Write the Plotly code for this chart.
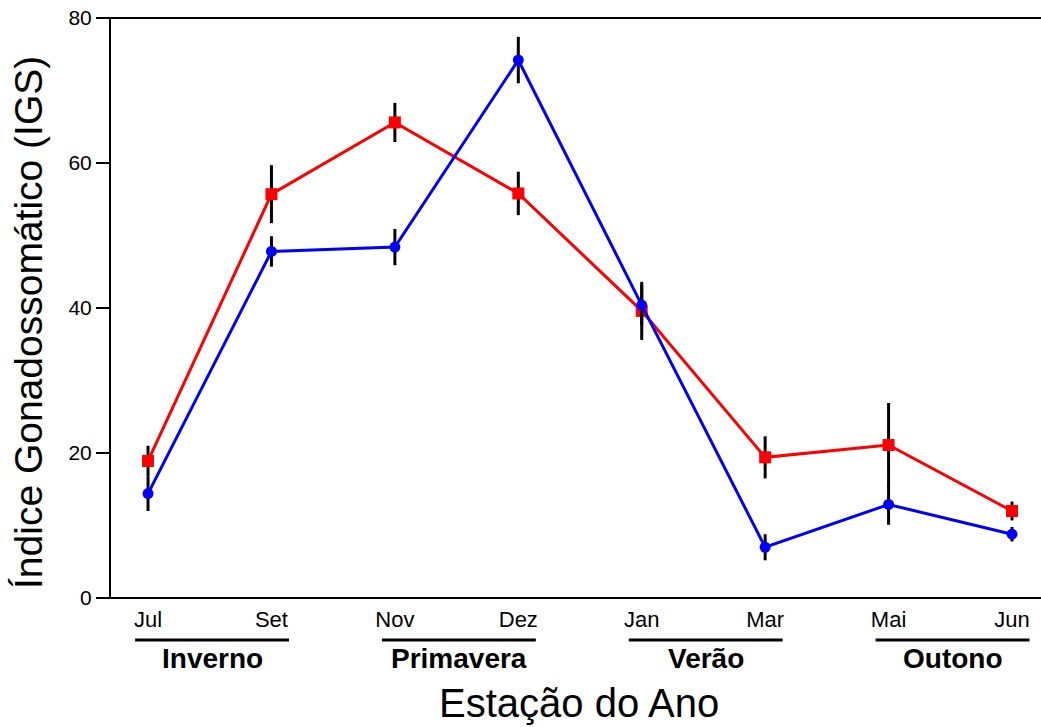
import plotly.graph_objects as go

# Monthly sampling points, grouped by season
months = ["Jul", "Set", "Nov", "Dez", "Jan", "Mar", "Mai", "Jun"]
seasons = ["Inverno", "Primavera", "Verão", "Outono"]

# Gonadosomatic index (mean and error) for the two series
igs_red = [18.9, 55.7, 65.6, 55.8, 39.6, 19.4, 21.1, 12.0]
err_red = [2.1, 4.0, 2.7, 3.0, 4.0, 2.9, 5.8, 1.3]
igs_blue = [14.4, 47.8, 48.4, 74.2, 40.4, 7.0, 12.9, 8.8]
err_blue = [2.4, 2.1, 2.5, 3.2, 2.8, 1.8, 2.8, 1.0]

x_idx = list(range(len(months)))
FONT = "Liberation Sans, Arial, sans-serif"

fig = go.Figure()
fig.add_trace(go.Scatter(
    x=x_idx, y=igs_red, mode="lines+markers",
    line=dict(color="#FF0000", width=3),
    marker=dict(symbol="square", size=12, color="#FF0000"),
    error_y=dict(type="data", array=err_red, color="black", thickness=3, width=0),
    showlegend=False,
))
fig.add_trace(go.Scatter(
    x=x_idx, y=igs_blue, mode="lines+markers",
    line=dict(color="#0000FF", width=3),
    marker=dict(symbol="circle", size=11, color="#0000FF"),
    error_y=dict(type="data", array=err_blue, color="black", thickness=3, width=0),
    showlegend=False,
))

# Frame lines along top and bottom, running out to the tick ends
tick_ext = -13 / 930
for yv in (0, 1):
    fig.add_shape(type="line", xref="paper", yref="paper",
                  x0=tick_ext, x1=1, y0=yv, y1=yv,
                  line=dict(color="black", width=2))

# Season brackets under month pairs
for i, s in enumerate(seasons):
    a, b = 2 * i, 2 * i + 1
    fig.add_shape(type="line", xref="x", yref="paper",
                  x0=a - 0.105, x1=b + 0.142, y0=-0.0724, y1=-0.0724,
                  line=dict(color="black", width=3))
    fig.add_annotation(x=(a + b) / 2 + 0.02, y=-0.105, xref="x", yref="paper",
                       text=f"<b>{s}</b>", showarrow=False,
                       font=dict(family=FONT, size=28, color="black"),
                       xanchor="center", yanchor="middle")

# Axis titles
fig.add_annotation(x=0.503, y=(598 - 703) / 580, xref="paper", yref="paper",
                   text="Estação do Ano", showarrow=False,
                   font=dict(family=FONT, size=40, color="black"),
                   xanchor="center", yanchor="middle")
fig.add_annotation(x=(28 - 111) / 930, y=(598 - 323) / 580, xref="paper", yref="paper",
                   text="Índice Gonadossomático (IGS)", showarrow=False, textangle=-90,
                   font=dict(family=FONT, size=39, color="black"),
                   xanchor="center", yanchor="middle")

fig.update_layout(
    width=1041, height=727,
    margin=dict(l=111, r=0, t=18, b=129),
    paper_bgcolor="white", plot_bgcolor="white",
    font=dict(family=FONT, color="black"),
    xaxis=dict(
        range=[-0.3, 7.235], tickvals=x_idx, ticktext=months,
        showgrid=False, zeroline=False, showline=False, ticks="",
        tickfont=dict(family=FONT, size=22, color="black"),
        ticklabelstandoff=6,
    ),
    yaxis=dict(
        range=[0, 80], tickvals=[0, 20, 40, 60, 80],
        showgrid=False, zeroline=False, showline=True, linecolor="black", linewidth=2,
        ticks="outside", ticklen=13, tickwidth=2, tickcolor="black",
        tickfont=dict(family=FONT, size=21, color="black"),
    ),
)

fig.write_html("out.html")
